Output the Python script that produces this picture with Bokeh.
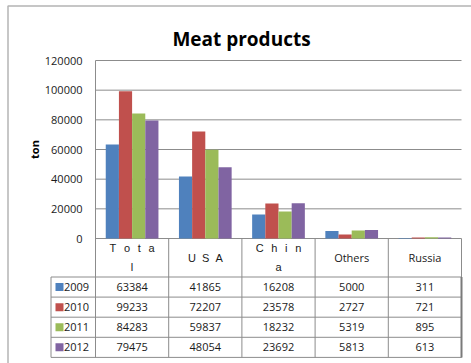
import numpy as np
from bokeh.plotting import figure
from bokeh.models import Range1d, ColumnDataSource
from bokeh.core.properties import value
from bokeh.embed import file_html
from bokeh.resources import INLINE

# ---- data ----
SP = "\u2002\u2009"  # wide gap for the letter-spaced headers (SVG collapses plain spaces)
SP_NARROW = "\u00a0\u00a0"
categories = ["Total", "USA", "China", "Others", "Russia"]
category_labels = [SP.join("Tota") + "\nl", SP_NARROW.join("USA"), SP.join("Chin") + "\na",
                   "Others", "Russia"]
category_fonts = ["Liberation Sans", "Liberation Sans", "Liberation Sans", "Open Sans", "Open Sans"]
years = ["2009", "2010", "2011", "2012"]
values_2009 = [63384, 41865, 16208, 5000, 311]
values_2010 = [99233, 72207, 23578, 2727, 721]
values_2011 = [84283, 59837, 18232, 5319, 895]
values_2012 = [79475, 48054, 23692, 5813, 613]
y_ticks = [0, 20000, 40000, 60000, 80000, 100000, 120000]
y_tick_labels = ["0", "20000", "40000", "60000", "80000", "100000", "120000"]
title_text = "Meat products"
y_axis_label = "ton"
colors = ["#4F81BD", "#C0504D", "#9BBB59", "#8064A2"]

series = [values_2009, values_2010, values_2011, values_2012]

# ---- layout (pixels) ----
W, H = 471, 363
PLOT_L, PLOT_R, PLOT_T, PLOT_B = 95, 461, 60, 238
Y_MAX = y_ticks[-1]
n = len(categories)
cat_px = (PLOT_R - PLOT_L) / n
val_px = Y_MAX / (PLOT_B - PLOT_T)


def xd(px):
    return (px - PLOT_L) / cat_px


def yd(py):
    return (PLOT_B - py) * val_px


HEADER_BOTTOM = 276.5
ROW_H = 20.1
TABLE_LEFT = 50.5
row_edges = [HEADER_BOTTOM + k * ROW_H for k in range(len(years) + 1)]
row_mid = [HEADER_BOTTOM + (k + 0.5) * ROW_H for k in range(len(years))]

GRID = "#8c8c8c"
TEXT = "#1a1a1a"

p = figure(width=W, height=H,
           x_range=Range1d(xd(0), xd(W)), y_range=Range1d(yd(H), yd(0)),
           x_axis_type=None, y_axis_type=None,
           output_backend="svg", toolbar_location=None,
           min_border=0, outline_line_color=None,
           background_fill_color="white", border_fill_color="white")

centers = np.arange(n) + 0.5

# horizontal gridlines
p.segment(x0=0, x1=n, y0=y_ticks, y1=y_ticks, line_color=GRID, line_width=1)

# y tick labels
p.text(x=xd(82), y=y_ticks, text=y_tick_labels, text_align="right",
       text_baseline="middle", text_font=value("Open Sans"),
       text_font_size="11px", text_color=TEXT)

# clustered bars
offsets = [-0.27, -0.09, 0.09, 0.27]
for vals, off, col in zip(series, offsets, colors):
    p.vbar(x=centers + off, top=vals, bottom=0, width=0.18,
           fill_color=col, line_color=None)

# data table: grid lines
p.segment(x0=xd(TABLE_LEFT), x1=n, y0=[yd(e) for e in row_edges],
          y1=[yd(e) for e in row_edges], line_color=GRID, line_width=1)
p.segment(x0=list(range(n + 1)), x1=list(range(n + 1)),
          y0=[Y_MAX] + [0] * n, y1=[yd(row_edges[-1])] * (n + 1),
          line_color=GRID, line_width=1)
p.segment(x0=[xd(TABLE_LEFT)], x1=[xd(TABLE_LEFT)],
          y0=[yd(row_edges[0])], y1=[yd(row_edges[-1])],
          line_color=GRID, line_width=1)
# heavier right edge of the table body
p.segment(x0=[n], x1=[n], y0=[yd(row_edges[0])], y1=[yd(row_edges[-1])],
          line_color="#7a7a7a", line_width=2)

# category header row
hdr = ColumnDataSource(dict(x=centers, y=[yd((PLOT_B + HEADER_BOTTOM) / 2)] * n,
                            text=category_labels, font=category_fonts))
p.text(x="x", y="y", text="text", text_font="font", source=hdr,
       text_align="center", text_baseline="middle", text_font_size="11px",
       text_line_height=1.6, text_color=TEXT)

# table values and legend keys
for r, vals in enumerate(series):
    p.text(x=centers, y=[yd(row_mid[r])] * n, text=[str(v) for v in vals],
           text_align="center", text_baseline="middle",
           text_font=value("Open Sans"), text_font_size="11px", text_color=TEXT)

p.scatter(x=[xd(59)] * len(years), y=[yd(m) for m in row_mid], marker="square",
          size=8, fill_color=colors, line_color=None)
p.text(x=[xd(63.5)] * len(years), y=[yd(m) for m in row_mid], text=years,
       text_align="left", text_baseline="middle", text_font=value("Open Sans"),
       text_font_size="11px", text_color=TEXT)

# title and axis label
p.text(x=[xd(241)], y=[yd(38)], text=[title_text], text_align="center",
       text_baseline="alphabetic", text_font=value("Open Sans"),
       text_font_style="bold", text_font_size="19px", text_color="black")
p.text(x=[xd(33.5)], y=[yd(149)], text=[y_axis_label], angle=np.pi / 2,
       text_align="center", text_baseline="middle", text_font=value("Open Sans"),
       text_font_style="bold", text_font_size="11px", text_color="black")

# chart border
p.line(x=[xd(7.5), xd(7.5), xd(W + 5)], y=[yd(H + 5), yd(5.5), yd(5.5)],
       line_color="#b4b4b4", line_width=1.5)

open("out.html", "w").write(file_html(p, INLINE))
